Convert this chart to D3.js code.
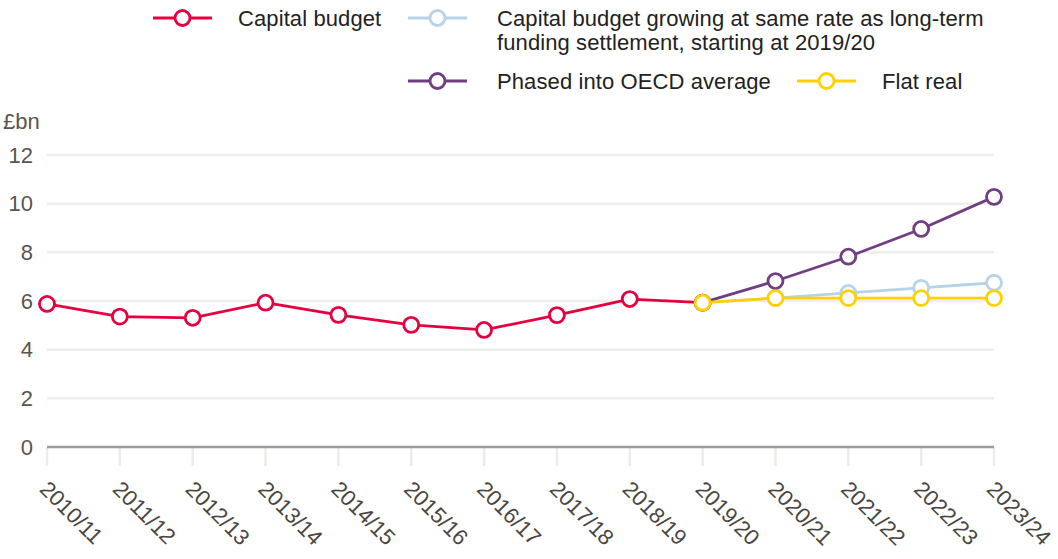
<!DOCTYPE html>
<html>
<head>
<meta charset="utf-8">
<script src="https://cdn.jsdelivr.net/npm/d3@7"></script>
<style>
  html, body { margin: 0; padding: 0; background: #fff; }
  svg { display: block; font-family: "Liberation Sans", Arial, sans-serif; }
</style>
</head>
<body>
<svg id="chart" width="1058" height="559"></svg>
<script>
// Financial years on the x axis
const years = ["2010/11","2011/12","2012/13","2013/14","2014/15","2015/16","2016/17",
               "2017/18","2018/19","2019/20","2020/21","2021/22","2022/23","2023/24"];

// £bn, outturn capital budget
const capitalBudget = [5.88, 5.36, 5.31, 5.93, 5.43, 5.02, 4.81, 5.42, 6.08, 5.93];
// Scenarios from 2019/20 onwards
const settlementYears = ["2019/20","2020/21","2021/22","2022/23","2023/24"];
const settlementGrowth = [5.93, 6.12, 6.33, 6.54, 6.75];
const oecdAverage      = [5.93, 6.82, 7.82, 8.96, 10.28];
const flatReal         = [5.93, 6.12, 6.12, 6.12, 6.12];

const yTicks = [0, 2, 4, 6, 8, 10, 12];

const series = [
  { name: "Capital budget", color: "#e5003f", x: years.slice(0, capitalBudget.length), y: capitalBudget },
  { name: "Capital budget growing at same rate as long-term|funding settlement, starting at 2019/20", color: "#b7d3e8", x: settlementYears, y: settlementGrowth },
  { name: "Phased into OECD average", color: "#6f3f82", x: settlementYears, y: oecdAverage },
  { name: "Flat real", color: "#ffd100", x: settlementYears, y: flatReal }
];

const svg = d3.select("#chart");
const margin = { left: 47, right: 64, top: 155, bottom: 112 };
const W = 1058, H = 559;

const x = d3.scalePoint().domain(years).range([margin.left, W - margin.right]);
const y = d3.scaleLinear().domain([0, 12]).range([H - margin.bottom, margin.top]);

// Horizontal gridlines
svg.append("g").selectAll("line").data(yTicks.filter(d => d > 0)).join("line")
  .attr("x1", x.range()[0]).attr("x2", x.range()[1])
  .attr("y1", d => y(d)).attr("y2", d => y(d))
  .attr("stroke", "#efeeea").attr("stroke-width", 2.5);

// Y tick labels
svg.append("g").selectAll("text").data(yTicks).join("text")
  .attr("x", 33).attr("y", d => y(d)).attr("dy", "0.35em")
  .attr("text-anchor", "end").attr("font-size", 22).attr("fill", "#5a5550")
  .text(d => d);

svg.append("text").attr("x", 3).attr("y", 129)
  .attr("font-size", 22).attr("fill", "#5a5550").text("£bn");

// X axis: ticks and baseline
const xAxis = svg.append("g");
xAxis.selectAll("line.tick").data(years).join("line").attr("class", "tick")
  .attr("x1", d => x(d)).attr("x2", d => x(d))
  .attr("y1", y(0)).attr("y2", y(0) + 19)
  .attr("stroke", "#eeece8").attr("stroke-width", 2.5);
xAxis.append("line")
  .attr("x1", x.range()[0]).attr("x2", x.range()[1])
  .attr("y1", y(0)).attr("y2", y(0))
  .attr("stroke", "#a29d99").attr("stroke-width", 2.5);
xAxis.selectAll("text").data(years).join("text")
  .attr("transform", d => `translate(${x(d) - 3},${y(0) + 38}) rotate(45)`)
  .attr("dy", "0.35em")
  .attr("font-size", 22).attr("fill", "#4a4541")
  .text(d => d);

// Lines and markers
const line = d3.line().x(d => x(d[0])).y(d => y(d[1]));
series.forEach(s => {
  const pts = s.x.map((k, j) => [k, s.y[j]]);
  const g = svg.append("g");
  g.append("path").datum(pts).attr("d", line)
    .attr("fill", "none").attr("stroke", s.color).attr("stroke-width", 2.8)
    .attr("stroke-linejoin", "round");
  g.selectAll("circle").data(pts).join("circle")
    .attr("cx", d => x(d[0])).attr("cy", d => y(d[1])).attr("r", 7.5)
    .attr("fill", "#fff").attr("stroke", s.color).attr("stroke-width", 2.8);
});

// Legend
const legendItems = [
  { s: series[0], lx: 153, tx: 238, ty: 18 },
  { s: series[1], lx: 408, tx: 497, ty: 18 },
  { s: series[2], lx: 408, tx: 497, ty: 81 },
  { s: series[3], lx: 797, tx: 882, ty: 81 }
];
const legend = svg.append("g");
legendItems.forEach(it => {
  const g = legend.append("g");
  g.append("line").attr("x1", it.lx).attr("x2", it.lx + 59)
    .attr("y1", it.ty).attr("y2", it.ty)
    .attr("stroke", it.s.color).attr("stroke-width", 2.8);
  g.append("circle").attr("cx", it.lx + 29.5).attr("cy", it.ty).attr("r", 7.5)
    .attr("fill", "#fff").attr("stroke", it.s.color).attr("stroke-width", 2.8);
  const lines = it.s.name.split("|");
  const t = g.append("text").attr("font-size", 22).attr("fill", "#222")
    .attr("letter-spacing", 0.1);
  lines.forEach((ln, k) => {
    t.append("tspan").attr("x", it.tx).attr("y", it.ty + k * 24)
      .attr("dy", "0.35em").text(ln);
  });
});
</script>
</body>
</html>
